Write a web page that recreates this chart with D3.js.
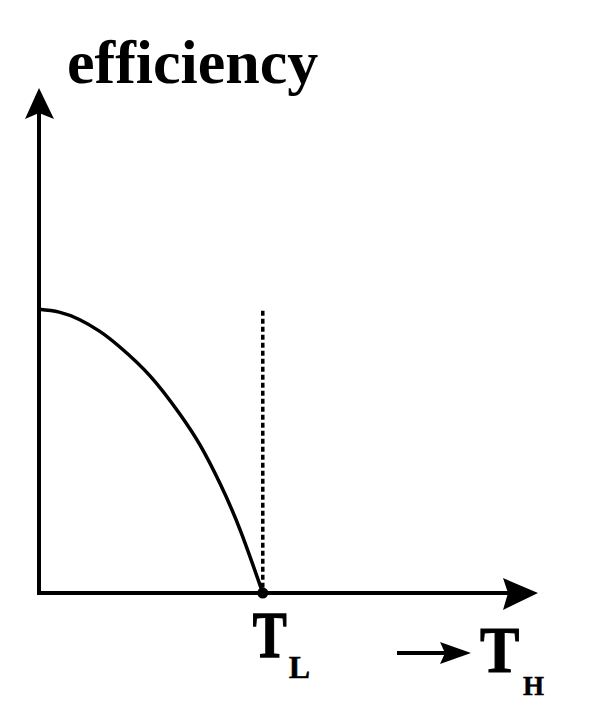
<!DOCTYPE html>
<html><head><meta charset="utf-8">
<script src="https://cdn.jsdelivr.net/npm/d3@7"></script>
<style>html,body{margin:0;padding:0;background:#fff;}svg{display:block;}</style>
</head><body>
<svg id="c" width="590" height="712"></svg>
<script>
// Data (T normalised so that T_L = 1, efficiency normalised to its value at T = 0)
const temps = [0, 0.09, 0.18, 0.27, 0.36, 0.5, 0.63, 0.72, 0.81, 0.9, 1.0];
const effs  = [1.0, 0.99, 0.964, 0.923, 0.868, 0.762, 0.63, 0.521, 0.384, 0.22, 0.0];
const TL = 1.0;
const xMax = 2.23, yMax = 1.78;
const yTitle = "efficiency";
const xLabels = [{main:"T", sub:"L"}, {main:"T", sub:"H"}];

const svg = d3.select("#c");
const x = d3.scaleLinear().domain([0, xMax]).range([39, 538]);
const y = d3.scaleLinear().domain([0, yMax]).range([593, 88]);
const ink = "#000";

// axes
svg.append("line").attr("x1", x(0)).attr("y1", y(0)+2).attr("x2", x(0)).attr("y2", y(yMax)+20)
  .attr("stroke", ink).attr("stroke-width", 4);
svg.append("line").attr("x1", x(0)-2).attr("y1", y(0)).attr("x2", x(xMax)-20).attr("y2", y(0))
  .attr("stroke", ink).attr("stroke-width", 4);
// arrow heads
const ax = x(0), ay = y(yMax);
svg.append("path").attr("fill", ink)
  .attr("d", `M${ax},${ay} L${ax+15},${ay+31} L${ax},${ay+25} L${ax-14},${ay+31} Z`);
const bx = x(xMax), by = y(0);
svg.append("path").attr("fill", ink)
  .attr("d", `M${bx},${by} L${bx-35},${by+17} L${bx-30},${by} L${bx-35},${by-15} Z`);

// dotted vertical at T_L
svg.append("line").attr("x1", x(TL)).attr("x2", x(TL)).attr("y1", y(0.995)).attr("y2", y(0))
  .attr("stroke", ink).attr("stroke-width", 3.5).attr("stroke-dasharray", "5,3");

// curve
const data = temps.map((t,i)=>({t, e:effs[i]}));
svg.append("path").datum(data)
  .attr("d", d3.line().x(d=>x(d.t)).y(d=>y(d.e)).curve(d3.curveNatural))
  .attr("fill","none").attr("stroke", ink).attr("stroke-width", 3.5);

// dot at T_L
svg.append("circle").attr("cx", x(TL)).attr("cy", y(0)).attr("r", 5.5).attr("fill", ink);

// title
const font = "'Liberation Serif','Times New Roman',serif";
svg.append("text").attr("x", 67).attr("y", 83).text(yTitle)
  .attr("font-family", font).attr("font-weight","bold").attr("font-size", 62).attr("fill", ink);

function label(xl, base, mainSize, sy, subx, subBase, lab, subSize){
  svg.append("text").attr("transform", `translate(${xl},${base}) scale(1,${sy})`).text(lab.main)
    .attr("font-family", font).attr("font-weight","bold").attr("font-size", mainSize)
    .attr("fill", ink).attr("stroke", ink).attr("stroke-width", 1);
  svg.append("text").attr("x", subx).attr("y", subBase).text(lab.sub)
    .attr("font-family", font).attr("font-weight","bold").attr("font-size", subSize)
    .attr("fill", ink).attr("stroke", ink).attr("stroke-width", 0.5);
}
label(x(TL)-10, 657, 51, 1.3, x(TL)+26, 678, xLabels[0], 32);
// small arrow before T_H
svg.append("line").attr("x1", 397).attr("x2", 445).attr("y1", 653).attr("y2", 653)
  .attr("stroke", ink).attr("stroke-width", 4);
svg.append("path").attr("fill", ink).attr("d", "M471,653 L440,642 L445,653 L440,664 Z");
label(480, 672, 59, 1.12, 523, 695, xLabels[1], 27);
</script>
</body></html>
